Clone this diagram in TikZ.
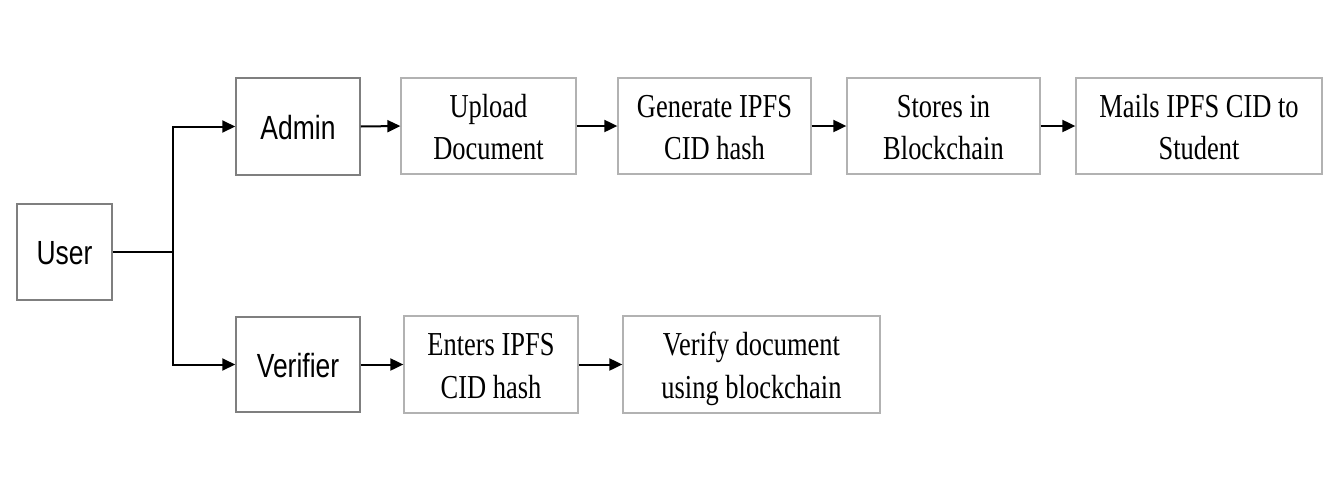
\documentclass[tikz,border=0pt]{standalone}
\usepackage{fontspec}
\setmainfont{Liberation Serif}
\newfontfamily\arialf{Liberation Sans}
\usetikzlibrary{arrows.meta}
\definecolor{darkbox}{HTML}{7F7F7F}
\definecolor{lightbox}{HTML}{B2B2B2}
\newcommand{\sqtext}[1]{\raisebox{-4pt}[\height][\depth]{\scalebox{0.79}[1]{\begin{tabular}{@{}c@{}}#1\end{tabular}}}}
\tikzset{
  sansbox/.style={draw=darkbox, line width=1.5pt, inner sep=0pt, fill=white,
    font=\arialf\fontsize{33.5}{42.7}\selectfont},
  serifbox/.style={draw=lightbox, line width=1.3pt, inner sep=0pt, fill=white,
    font=\fontsize{33.5}{42.7}\selectfont},
  conn/.style={line width=2pt, black},
  arr/.style={conn, -{Triangle[length=13pt,width=12pt]}}
}
\begin{document}
\begin{tikzpicture}[x=1pt,y=-1pt]
\useasboundingbox (0,0) rectangle (1342,499);
\node[sansbox, minimum width=95pt, minimum height=96pt] (user) at (64.5,252) {\sqtext{User}};
\node[sansbox, minimum width=124pt, minimum height=97pt] (admin) at (298,126.5) {\sqtext{Admin}};
\node[sansbox, minimum width=124pt, minimum height=95pt] (verifier) at (298,364.5) {\sqtext{Verifier}};
\node[serifbox, minimum width=175pt, minimum height=96pt] (upload) at (488.5,126) {\sqtext{Upload\\Document}};
\node[serifbox, minimum width=193pt, minimum height=96pt] (generate) at (714.5,126) {\sqtext{Generate IPFS\\CID hash}};
\node[serifbox, minimum width=193pt, minimum height=96pt] (stores) at (943.5,126) {\sqtext{Stores in\\Blockchain}};
\node[serifbox, minimum width=246pt, minimum height=96pt] (mails) at (1199,126) {\sqtext{Mails IPFS CID to\\Student}};
\node[serifbox, minimum width=174pt, minimum height=97pt] (enters) at (491,364.5) {\sqtext{Enters IPFS\\CID hash}};
\node[serifbox, minimum width=257pt, minimum height=97pt] (verify) at (751.5,364.5) {\sqtext{Verify document\\using blockchain}};
\coordinate (br) at (173,252);
\draw[conn] (user.east) -- (br);
\draw[arr] (br) |- (admin.west);
\draw[arr] (br) |- (verifier.west);
\draw[arr] (admin.east) -- (upload.west);
\draw[arr] (upload.east) -- (generate.west);
\draw[arr] (generate.east) -- (stores.west);
\draw[arr] (stores.east) -- (mails.west);
\draw[arr] (verifier.east) -- (enters.west);
\draw[arr] (enters.east) -- (verify.west);
\end{tikzpicture}
\end{document}
